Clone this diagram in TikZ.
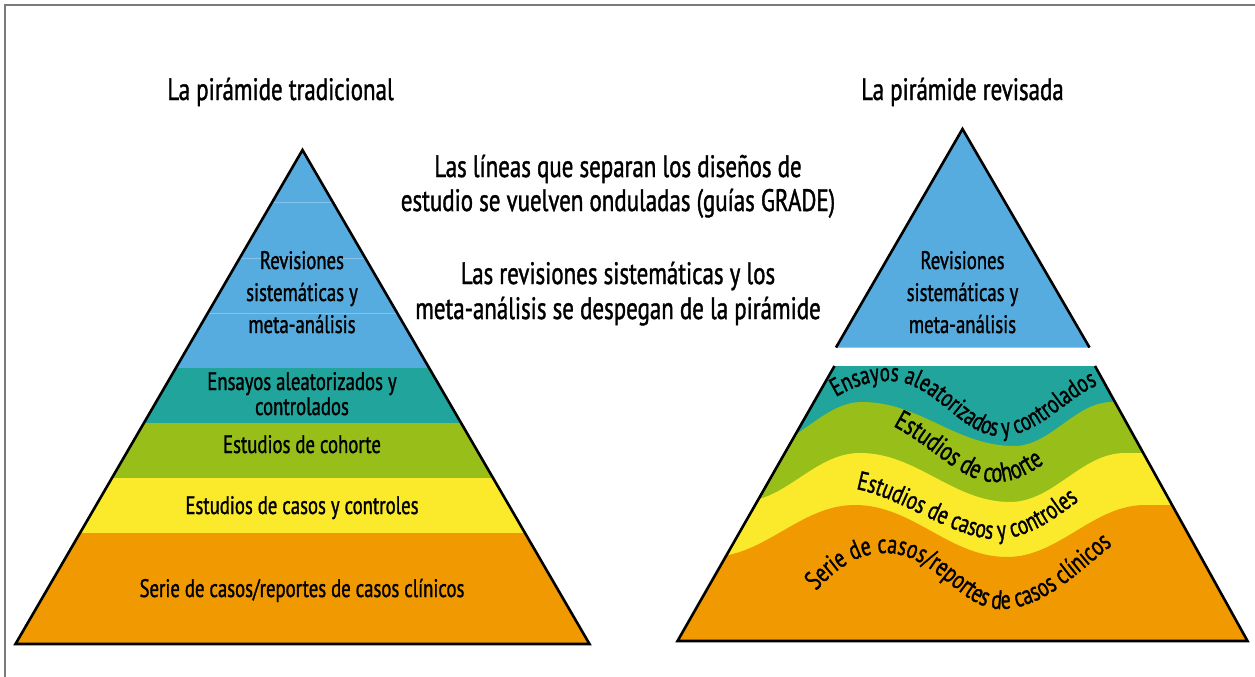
\documentclass[tikz,border=0pt]{standalone}
\usepackage{fontspec}
\setmainfont{PT Sans}[FakeStretch=0.74,FakeBold=1.2]
\usetikzlibrary{decorations.text}
\definecolor{pblue}{HTML}{56ACDF}
\definecolor{pfaint}{HTML}{86C3EC}
\definecolor{pteal}{HTML}{21A49B}
\definecolor{pgreen}{HTML}{98BF19}
\definecolor{pyellow}{HTML}{FAEA2B}
\definecolor{porange}{HTML}{F09900}
\definecolor{pframe}{HTML}{7A7A7A}
\newcommand{\wfa}{\fontsize{25.8}{30}\selectfont}
\newcommand{\wfb}{\fontsize{27.5}{30}\selectfont}
\newcommand{\wfc}{\fontsize{26.3}{30}\selectfont}
\newcommand{\wfd}{\fontsize{26.8}{30}\selectfont}
\tikzset{
  lbl/.style={anchor=base, inner sep=0pt, font=\fontsize{25.3}{30}\selectfont},
  ttl/.style={anchor=base, inner sep=0pt, font=\fontsize{31}{36}\selectfont},
  outline/.style={draw=black, line width=2.6pt, line join=miter},
  frameline/.style={draw=pframe, line width=1.8pt},
  faintline/.style={draw=pfaint, line width=0.9pt},
  wavetxt/.style={decoration={text along path, text={#1}, text align=left}, decorate}
}
\begin{document}
\begin{tikzpicture}[x=1pt,y=-1pt]
\useasboundingbox (0,0) rectangle (1255,677);
\fill[white] (0,0) rectangle (1255,677);
\draw[frameline] (5,677) -- (5,5) -- (1255,5);

% ---------- left pyramid ----------
\begin{scope}
  \clip (302.5,150) -- (15.5,644) -- (589.5,644) -- cycle;
  \fill[pblue]   (0,140) rectangle (600,368);
  \fill[pteal]   (0,368) rectangle (600,423);
  \fill[pgreen]  (0,423) rectangle (600,478);
  \fill[pyellow] (0,478) rectangle (600,533);
  \fill[porange] (0,533) rectangle (600,650);
  \draw[faintline] (0,202) -- (600,202);
  \draw[faintline] (0,258) -- (600,258);
  \draw[faintline] (0,313) -- (600,313);
\end{scope}
\draw[outline] (302.5,150) -- (15.5,644) -- (589.5,644) -- cycle;

\node[ttl] (ttlL) at (280.5,100) {La pirámide tradicional};
\node[lbl] (lrev1) at (302,269) {Revisiones};
\node[lbl] (lrev2) at (302,301) {sistemáticas y};
\node[lbl] (lrev3) at (302,333) {meta-análisis};
\node[lbl] (lens1) at (302,390) {Ensayos aleatorizados y};
\node[lbl] (lens2) at (302,415) {controlados};
\node[lbl] (lcoh) at (302,453) {Estudios de cohorte};
\node[lbl] (lcas) at (302,514) {Estudios de casos y controles};
\node[lbl] (lser) at (302,597) {Serie de casos/reportes de casos clínicos};

% ---------- middle text ----------
\node[ttl] (mid1) at (618,177) {Las líneas que separan los diseños de};
\node[ttl] (mid2) at (618,211) {estudio se vuelven onduladas (guías GRADE)};
\node[ttl] (mid3) at (618,284) {Las revisiones sistemáticas y los};
\node[ttl] (mid4) at (618,319) {meta-análisis se despegan de la pirámide};

% ---------- right pyramid ----------
\node[ttl] (ttlR) at (962.5,100) {La pirámide revisada};
\fill[pblue] (836,347.5) -- (962.5,129) -- (1089.5,347.5) -- cycle;
\draw[outline] (836,347.5) -- (962.5,129) -- (1089.5,347.5);
\node[lbl] (rrev1) at (962.5,269) {Revisiones};
\node[lbl] (rrev2) at (962.5,301) {sistemáticas y};
\node[lbl] (rrev3) at (962.5,333) {meta-análisis};

\begin{scope}
  \clip (834.5,366) -- (677.5,641) -- (1247.5,641) -- (1095,366) -- cycle;
  \fill[pteal] (600,350) rectangle (1300,700);
  \fill[pgreen] (640,446) -- (760,446) .. controls (799,446) and (823,402) .. (862,402)
     .. controls (920,402) and (956,446) .. (1014,446)
     .. controls (1051,446) and (1075,402) .. (1112,402) -- (1300,402) -- (1300,700) -- (640,700) -- cycle;
  \fill[pyellow] (640,502) -- (740,502) .. controls (786,502) and (814,453) .. (860,453)
     .. controls (917,453) and (953,502) .. (1010,502)
     .. controls (1054,502) and (1081,453) .. (1125,453) -- (1300,453) -- (1300,700) -- (640,700) -- cycle;
  \fill[porange] (640,557) -- (710,557) .. controls (765,557) and (800,505) .. (855,505)
     .. controls (913,505) and (949,557) .. (1007,557)
     .. controls (1059,557) and (1093,505) .. (1145,505) -- (1300,506) -- (1300,700) -- (640,700) -- cycle;
\end{scope}
\draw[outline] (834.5,366) -- (677.5,641) -- (1247.5,641) -- (1095,366);

\path[wavetxt={|\wfa|Ensayos aleatorizados y controlados}]
  (836,397) .. controls (855,386) and (870,381) .. (890,381)
  .. controls (935,381) and (960,436) .. (1000,436)
  .. controls (1040,436) and (1065,398) .. (1100,384) -- (1140,370);
\path[wavetxt={|\wfb|Estudios de cohorte}]
  (893,426) .. controls (935,448) and (960,482) .. (995,482)
  .. controls (1020,482) and (1035,470) .. (1060,452) -- (1100,430);
\path[wavetxt={|\wfc|Estudios de casos y controles}]
  (856,489) .. controls (900,497) and (955,539) .. (995,539)
  .. controls (1030,539) and (1055,518) .. (1080,500) -- (1120,475);
\path[wavetxt={|\wfd|Serie de casos/reportes de casos clínicos}]
  (816,591) .. controls (840,565) and (860,553) .. (885,553)
  .. controls (935,553) and (960,609) .. (1000,609)
  .. controls (1045,609) and (1080,570) .. (1115,543) -- (1150,515);
\end{tikzpicture}
\end{document}
